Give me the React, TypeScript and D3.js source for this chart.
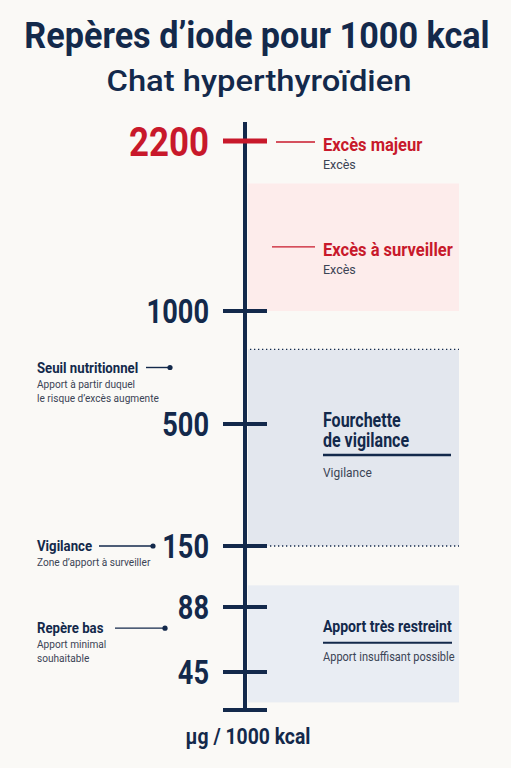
import React from "react";
import * as d3 from "d3";

const W = 511;
const H = 768;

// Data
const tickValues = [2200, 1000, 500, 150, 88, 45];
const tickLabels = ["2200", "1000", "500", "150", "88", "45"];
const highlightTick = 2200;
const axisMin = 30;
const axisMax = 2600;

const bandStarts = [1000, 150, 33];
const bandEnds = [1900, 830, 110];
const bandKinds = ["excess", "vigilance", "low"];

const rightMarkerValues = [2200, 1460];
const rightMarkerTitles = ["Excès majeur", "Excès à surveiller"];
const rightMarkerSubs = ["Excès", "Excès"];
const rightMarkerLineStart = [276, 272];

const leftNoteValues = [750, 150, 74];
const leftNoteTitles = ["Seuil nutritionnel", "Vigilance", "Repère bas"];
const leftNoteSubs = [
  ["Apport à partir duquel", "le risque d’excès augmente"],
  ["Zone d’apport à surveiller"],
  ["Apport minimal", "souhaitable"],
];
const leftNoteLineStart = [146, 99, 115];
const leftNoteDotX = [170, 153, 165];

const title = "Repères d’iode pour 1000 kcal";
const subtitle = "Chat hyperthyroïdien";
const unitLabel = "µg / 1000 kcal";

const NAVY = "#13294b";
const RED = "#c8192b";
const SUB = "#3b4455";
const FONT = "Roboto, 'Noto Sans', sans-serif";

function CText({ x, y, sx = 1, anchor = "start", size, weight = 400, fill = NAVY, children }: any) {
  return (
    <text
      transform={`translate(${x},${y}) scale(${sx},1)`}
      textAnchor={anchor}
      fontFamily={FONT}
      fontSize={size}
      fontWeight={weight}
      fill={fill}
    >
      {children}
    </text>
  );
}

export default function App() {
  const y = d3
    .scaleLinear()
    .domain([axisMin, 45, 88, 150, 500, 1000, 2200, axisMax])
    .range([710, 672, 607, 546, 424, 311, 141, 122]);

  const axisX = 245;
  const bandX0 = 248;
  const bandX1 = 459;
  const textX = 323;

  return (
    <svg width={W} height={H} style={{ position: "absolute", left: 0, top: 0, display: "block" }}>
      <rect x={0} y={0} width={W} height={H} fill="#faf9f6" />

      {/* Title */}
      <CText x={257} y={48} sx={0.95} anchor="middle" size={36} weight={700}>
        {title}
      </CText>
      <CText x={259} y={91} sx={1.13} anchor="middle" size={29} weight={500}>
        {subtitle}
      </CText>

      {/* Bands */}
      {bandKinds.map((k, i) => {
        const top = y(bandEnds[i]);
        const bot = y(bandStarts[i]);
        const fill = k === "excess" ? "#fdeceb" : k === "vigilance" ? "#e3e7ee" : "#e9edf3";
        return <rect key={k} x={bandX0} y={top} width={bandX1 - bandX0} height={bot - top} fill={fill} />;
      })}
      {/* dotted edges of vigilance band */}
      <line x1={bandX0 + 2} x2={bandX1} y1={y(bandEnds[1])} y2={y(bandEnds[1])} stroke={NAVY} strokeWidth={1.3} strokeDasharray="1.3 2.7" />
      <line x1={270} x2={bandX1} y1={y(bandStarts[1])} y2={y(bandStarts[1])} stroke={NAVY} strokeWidth={1.3} strokeDasharray="1.3 2.7" />

      {/* Axis */}
      <line x1={axisX} x2={axisX} y1={y(axisMax)} y2={y(axisMin)} stroke={NAVY} strokeWidth={4} />
      <line x1={223} x2={267} y1={y(axisMin)} y2={y(axisMin)} stroke={NAVY} strokeWidth={4} />
      {tickValues.map((v, i) => {
        const hi = v === highlightTick;
        return (
          <g key={v}>
            <line x1={223} x2={267} y1={y(v)} y2={y(v)} stroke={hi ? RED : NAVY} strokeWidth={hi ? 5 : 4} />
            <CText x={209} y={y(v) + (hi ? 14.5 : 12)} sx={hi ? 0.85 : 0.8} anchor="end" size={hi ? 41 : 34} weight={700} fill={hi ? RED : NAVY}>
              {tickLabels[i]}
            </CText>
          </g>
        );
      })}

      {/* Right red markers */}
      {rightMarkerValues.map((v, i) => (
        <g key={v}>
          <line x1={rightMarkerLineStart[i]} x2={315} y1={y(v) + 1} y2={y(v) + 1} stroke={RED} strokeWidth={1.4} />
          <CText x={textX} y={y(v) + 10} sx={0.87} size={19} weight={700} fill={RED}>
            {rightMarkerTitles[i]}
          </CText>
          <CText x={textX} y={y(v) + 28} sx={1} size={12.5} fill={SUB}>
            {rightMarkerSubs[i]}
          </CText>
        </g>
      ))}

      {/* Fourchette de vigilance */}
      <CText x={textX} y={y(500) + 3} sx={0.8} size={20} weight={700}>Fourchette</CText>
      <CText x={textX} y={y(500) + 23} sx={0.8} size={20} weight={700}>de vigilance</CText>
      <line x1={textX} x2={451} y1={y(500) + 31} y2={y(500) + 31} stroke={NAVY} strokeWidth={2.5} />
      <CText x={textX} y={y(500) + 53} sx={0.92} size={13} fill={SUB}>Vigilance</CText>

      {/* Apport très restreint */}
      <CText x={textX} y={y(74) + 3.5} sx={0.83} size={17} weight={700}>Apport très restreint</CText>
      <line x1={textX} x2={452} y1={y(74) + 14.5} y2={y(74) + 14.5} stroke={NAVY} strokeWidth={2} />
      <CText x={textX} y={y(74) + 33} sx={0.92} size={12} fill={SUB}>Apport insuffisant possible</CText>

      {/* Left notes */}
      {leftNoteValues.map((v, i) => (
        <g key={leftNoteTitles[i]}>
          <CText x={37} y={y(v) + 5} sx={0.88} size={15} weight={700}>
            {leftNoteTitles[i]}
          </CText>
          <line x1={leftNoteLineStart[i]} x2={leftNoteDotX[i]} y1={y(v)} y2={y(v)} stroke={NAVY} strokeWidth={1.4} />
          <circle cx={leftNoteDotX[i]} cy={y(v)} r={2.6} fill={NAVY} />
          {leftNoteSubs[i].map((s, j) => (
            <CText key={s} x={37} y={y(v) + 20 + j * 14} sx={0.92} size={11} fill={SUB}>
              {s}
            </CText>
          ))}
        </g>
      ))}

      {/* Unit label */}
      <CText x={248} y={744} sx={0.88} anchor="middle" size={22} weight={700}>
        {unitLabel}
      </CText>
    </svg>
  );
}
